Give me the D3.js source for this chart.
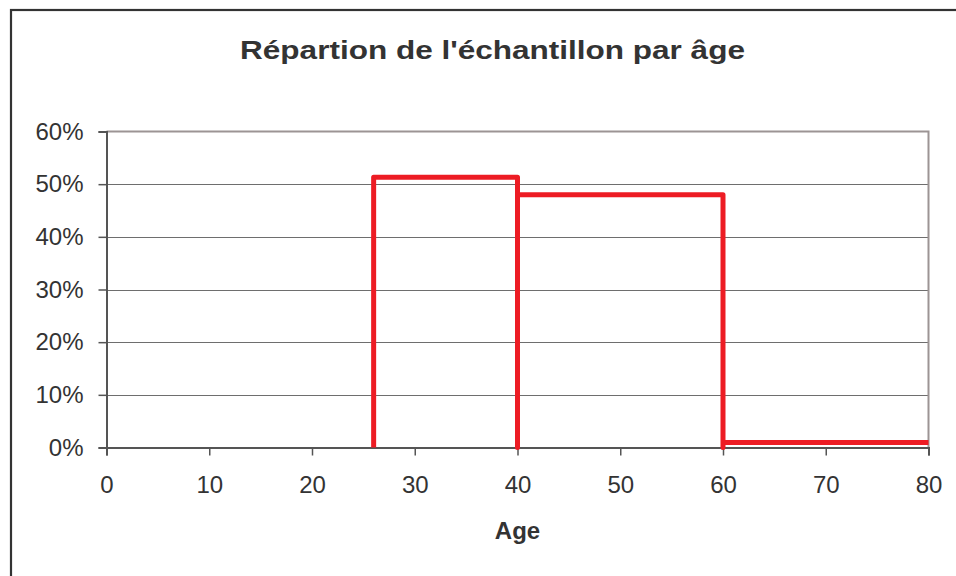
<!DOCTYPE html>
<html>
<head>
<meta charset="utf-8">
<script src="https://cdn.jsdelivr.net/npm/d3@7"></script>
<style>
html,body{margin:0;padding:0;background:#fff;}
svg{display:block;}
text{font-family:"Liberation Sans",Arial,sans-serif;fill:#333;}
</style>
</head>
<body>
<svg id="chart" width="956" height="576"></svg>
<script>
// Data
const title = "Répartion de l'échantillon par âge";
const xLabel = "Age";
const binEdges = [26, 40, 60, 80];      // age class boundaries
const shares = [0.513, 0.48, 0.0095];     // share of sample per class
const xTicks = [0, 10, 20, 30, 40, 50, 60, 70, 80];
const yTicks = [0, 0.1, 0.2, 0.3, 0.4, 0.5, 0.6];

const svg = d3.select("#chart");
const W = 956, H = 576;
const m = {left: 106.5, right: 956 - 928.5, top: 131.5, bottom: 576 - 447.5};
const pw = W - m.left - m.right, ph = H - m.top - m.bottom;

// outer frame (extends beyond right/bottom edges)
svg.append("rect").attr("x", 11).attr("y", 10).attr("width", 980).attr("height", 620)
  .attr("fill", "#fff").attr("stroke", "#333").attr("stroke-width", 2.2);

const x = d3.scaleLinear().domain([0, 80]).range([m.left, m.left + pw]);
const y = d3.scaleLinear().domain([0, 0.6]).range([m.top + ph, m.top]);

// title (horizontally stretched as in the reference)
svg.append("text").attr("transform", "translate(492.5,59) scale(1.19,1)").attr("text-anchor", "middle")
  .attr("font-size", 26.5).attr("font-weight", "bold").text(title);

// gridlines
svg.append("g").selectAll("line").data(yTicks.filter(d => d > 0 && d < 0.6)).join("line")
  .attr("x1", x(0)).attr("x2", x(80)).attr("y1", d => Math.round(y(d)) + 0.5).attr("y2", d => Math.round(y(d)) + 0.5)
  .attr("stroke", "#6e6e6e").attr("stroke-width", 1.2);

// plot border top/right
svg.append("path")
  .attr("d", `M${x(0)},${y(0.6)}H${x(80)}V${y(0)}`)
  .attr("fill", "none").attr("stroke", "#9c9494").attr("stroke-width", 2);

// y axis
const yAxis = d3.axisLeft(y).tickValues(yTicks).tickFormat(d3.format(".0%")).tickSize(8).tickPadding(15);
const gy = svg.append("g").attr("transform", `translate(${x(0)},0)`).call(yAxis);
gy.select(".domain").attr("stroke", "#555").attr("stroke-width", 2);
gy.selectAll(".tick line").attr("stroke", "#555").attr("stroke-width", 1.5);
gy.selectAll(".tick text").attr("font-size", 24).attr("fill", "#333")
  .attr("font-family", "Liberation Sans, Arial, sans-serif");

// x axis
const xAxis = d3.axisBottom(x).tickValues(xTicks).tickSize(8).tickPadding(20);
const gx = svg.append("g").attr("transform", `translate(0,${y(0)})`).call(xAxis);
gx.select(".domain").attr("stroke", "#555").attr("stroke-width", 2);
gx.selectAll(".tick line").attr("stroke", "#555").attr("stroke-width", 1.5);
gx.selectAll(".tick text").attr("font-size", 24).attr("fill", "#333")
  .attr("font-family", "Liberation Sans, Arial, sans-serif");

// x label
svg.append("text").attr("x", x(40)).attr("y", 539).attr("text-anchor", "middle")
  .attr("font-size", 24).attr("font-weight", "bold").text(xLabel);

// histogram as a step line
const pts = [];
shares.forEach((s, i) => {
  pts.push([binEdges[i], 0]);
  pts.push([binEdges[i], s]);
  pts.push([binEdges[i + 1], s]);
});
const line = d3.line().x(d => x(d[0])).y(d => y(d[1]));
svg.append("path").attr("d", line(pts)).attr("fill", "none")
  .attr("stroke", "#ed1c24").attr("stroke-width", 5).attr("stroke-linejoin", "round");
</script>
</body>
</html>
